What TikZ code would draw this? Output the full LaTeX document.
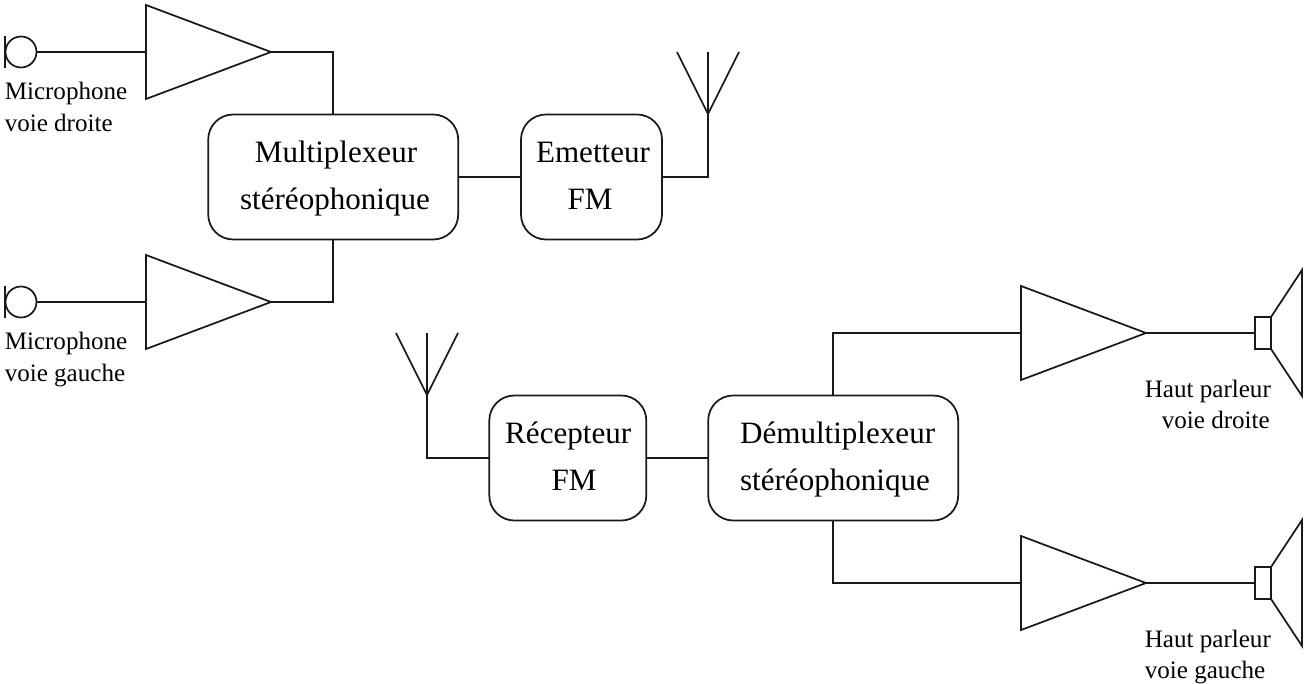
\documentclass[tikz,border=0pt]{standalone}
\usepackage{fontspec}
\setmainfont{Liberation Serif}
\tikzset{
  wire/.style={draw=black!90,line width=1.3pt,line join=miter},
  blockbox/.style={draw=black!90,line width=1.3pt,rectangle,rounded corners=18.75pt,inner sep=0pt,outer sep=0pt,minimum height=93.75pt},
  micro/.style={draw=black!90,line width=1.3pt,circle,inner sep=0pt,outer sep=0pt,minimum size=23.25pt},
  speakerbox/.style={draw=black!90,line width=1.3pt,rectangle,inner sep=0pt,outer sep=0pt,minimum width=12pt,minimum height=24pt},
  bigtext/.style={anchor=base,inner sep=0pt,font=\fontsize{23.3pt}{28pt}\selectfont},
  smalltext/.style={anchor=base west,inner sep=0pt,font=\fontsize{18.8pt}{22pt}\selectfont}
}
\begin{document}
\begin{tikzpicture}[x=0.75pt,y=-0.75pt]
\useasboundingbox (0,0) rectangle (1305,684);
% blocks
\node[blockbox,minimum width=187.5pt] (mux) at (333.2,177) {};
\node[blockbox,minimum width=105.75pt] (em) at (591.5,177) {};
\node[blockbox,minimum width=117.75pt] (rec) at (567.8,458) {};
\node[blockbox,minimum width=187.5pt] (dem) at (833.2,458) {};
\node[bigtext] (t1) at (336,163) {Multiplexeur};
\node[bigtext] (t2) at (335,210) {stéréophonique};
\node[bigtext] (t3) at (593,163) {Emetteur};
\node[bigtext] (t4) at (590,210) {FM};
\node[bigtext] (t5) at (568.2,443) {Récepteur};
\node[bigtext] (t6) at (574,490) {FM};
\node[bigtext] (t7) at (837.6,443) {Démultiplexeur};
\node[bigtext] (t8) at (835,490) {stéréophonique};
% microphones
\node[micro] (mic1) at (21,52) {};
\node[micro] (mic2) at (21,302) {};
\coordinate (b1a) at (5,36); \coordinate (b1b) at (5,68);
\coordinate (b2a) at (5,286); \coordinate (b2b) at (5,318);
\draw[wire] (b1a) -- (b1b);
\draw[wire] (b2a) -- (b2b);
\node[smalltext] (l1) at (4.5,99.5) {Microphone};
\node[smalltext] (l2) at (4.5,131.5) {voie droite};
\node[smalltext] (l3) at (4.5,349.5) {Microphone};
\node[smalltext] (l4) at (4.5,381.5) {voie gauche};
% amplifiers
\coordinate (a1i) at (146,52); \coordinate (a1o) at (271,52);
\coordinate (a2i) at (146,302); \coordinate (a2o) at (271,302);
\coordinate (a3i) at (1021,333); \coordinate (a3o) at (1146,333);
\coordinate (a4i) at (1021,583); \coordinate (a4o) at (1146,583);
\draw[wire] (146,5) -- (a1o) -- (146,99) -- cycle;
\draw[wire] (146,255) -- (a2o) -- (146,349) -- cycle;
\draw[wire] (1021,286) -- (a3o) -- (1021,380) -- cycle;
\draw[wire] (1021,536) -- (a4o) -- (1021,630) -- cycle;
% antennas
\coordinate (an1) at (708,114);
\coordinate (an2) at (427,395);
\draw[wire] (677,52) -- (an1) -- (739,52);
\draw[wire] (708,52) -- (an1);
\draw[wire] (396,333) -- (an2) -- (458,333);
\draw[wire] (427,333) -- (an2);
% speakers
\node[speakerbox] (sp1) at (1263,333) {};
\node[speakerbox] (sp2) at (1263,583) {};
\draw[wire] (sp1.north east) -- (1302,270) -- (1302,396) -- (sp1.south east);
\draw[wire] (sp2.north east) -- (1302,520) -- (1302,646) -- (sp2.south east);
\node[smalltext] (l5) at (1144.6,397) {Haut parleur};
\node[smalltext] (l6) at (1161.6,428) {voie droite};
\node[smalltext] (l7) at (1144.6,647) {Haut parleur};
\node[smalltext] (l8) at (1144.6,678) {voie gauche};
% connectors
\draw[wire] (mic1.east) -- (a1i);
\draw[wire] (mic2.east) -- (a2i);
\draw[wire] (a1o) -| (mux.north);
\draw[wire] (a2o) -| (mux.south);
\draw[wire] (mux.east) -- (em.west);
\draw[wire] (em.east) -| (an1);
\draw[wire] (an2) |- (rec.west);
\draw[wire] (rec.east) -- (dem.west);
\draw[wire] (dem.north) |- (a3i);
\draw[wire] (dem.south) |- (a4i);
\draw[wire] (a3o) -- (sp1.west);
\draw[wire] (a4o) -- (sp2.west);
\end{tikzpicture}
\end{document}
